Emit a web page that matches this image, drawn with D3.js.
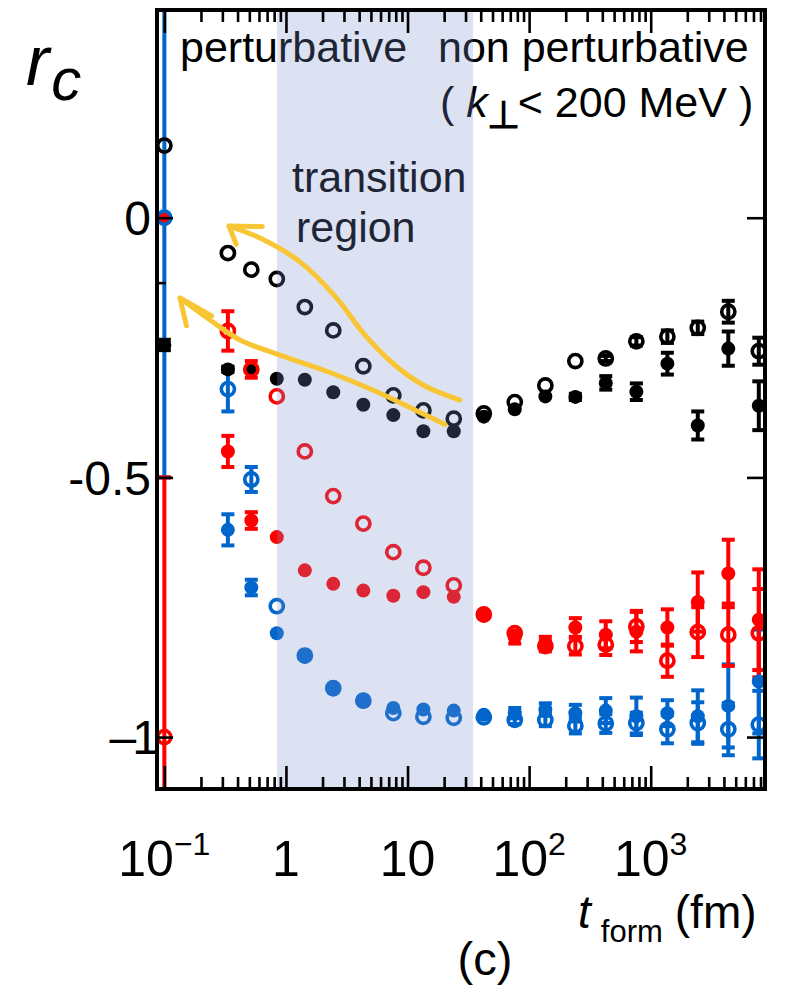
<!DOCTYPE html>
<html>
<head>
<meta charset="utf-8">
<script src="https://cdn.jsdelivr.net/npm/d3@7/dist/d3.min.js"></script>
<style>
  html, body { margin: 0; padding: 0; background: #ffffff; }
  svg { display: block; }
  text { font-family: "Liberation Sans", Arial, Helvetica, sans-serif; fill: #000; }
</style>
</head>
<body>
<svg id="chart" width="785" height="999"></svg>
<script>
// formation time bins (fm)
const tForm = [0.1, 0.333, 0.519, 0.841, 1.43, 2.45, 4.33, 7.64, 13.5, 24.0,
               42.4, 76.2, 136, 240, 427, 762, 1371, 2438, 4346, 7745];

// r_c per bin, one array per sample, with symmetric uncertainties
const blackOpen    = [0.139, -0.068, -0.100, -0.118, -0.172, -0.217, -0.286, -0.342, -0.371, -0.387,
                      -0.377, -0.355, -0.323, -0.276, -0.271, -0.238, -0.229, -0.212, -0.181, -0.257];
const blackOpenErr = [0, 0, 0, 0, 0, 0, 0, 0, 0, 0, 0, 0, 0, 0, 0.005, 0.008, 0.012, 0.012, 0.021, 0.026];

const blackFull    = [-0.245, -0.292, -0.294, -0.310, -0.312, -0.336, -0.360, -0.380, -0.411, -0.411,
                      -0.383, -0.369, -0.344, -0.345, -0.318, -0.335, -0.281, -0.400, -0.252, -0.362];
const blackFullErr = [0.01, 0.005, 0, 0, 0, 0, 0, 0, 0, 0, 0, 0, 0, 0.006, 0.013, 0.016, 0.021, 0.027, 0.033, 0.047];

const redOpen      = [-1.0, -0.218, -0.292, -0.344, -0.450, -0.536, -0.589, -0.644, -0.674, -0.708,
                      -0.764, -0.800, -0.825, -0.825, -0.822, -0.787, -0.853, -0.798, -0.803, -0.800];
const redOpenErr   = [0.5, 0.038, 0.016, 0, 0, 0, 0, 0, 0, 0, 0, 0.005, 0.01, 0.016, 0.02, 0.03, 0.031, 0.048, 0.06, 0.085];

const redFull      = [0.0, -0.450, -0.583, -0.615, -0.679, -0.705, -0.718, -0.728, -0.721, -0.730,
                      -0.766, -0.808, -0.819, -0.789, -0.803, -0.797, -0.789, -0.740, -0.685, -0.774];
const redFullErr   = [0, 0.03, 0.016, 0, 0, 0, 0, 0, 0, 0, 0, 0.012, 0.012, 0.018, 0.026, 0.038, 0.035, 0.057, 0.065, 0.097];

const blueOpen     = [0.0, -0.330, -0.504, -0.748, -0.843, -0.906, -0.930, -0.954, -0.961, -0.963,
                      -0.962, -0.967, -0.967, -0.978, -0.974, -0.973, -0.985, -0.973, -0.985, -0.976];
const blueOpenErr  = [0.5, 0.043, 0.024, 0, 0, 0, 0, 0, 0, 0, 0, 0.008, 0.012, 0.015, 0.018, 0.02, 0.027, 0.04, 0.05, 0.065];

const blueFull     = [null, -0.601, -0.712, -0.800, -0.845, -0.906, -0.928, -0.944, -0.947, -0.949,
                      -0.957, -0.954, -0.947, -0.954, -0.949, -0.960, -0.954, -0.960, -0.940, -0.893];
const blueFullErr  = [0, 0.03, 0.015, 0, 0, 0, 0, 0, 0, 0, 0, 0.01, 0.012, 0.016, 0.024, 0.036, 0.025, 0.05, 0.08, 0.1];

// axis ticks and labels
const yTickValues = [0, -0.5, -1];
const yTickLabels = ["0", "-0.5", "\u20131"];
const yMinorTicks = [-0.125];
const xTickValues = [0.1, 1, 10, 100, 1000];
const xTickBase   = ["10", "1", "10", "10", "10"];
const xTickExp    = ["\u22121", "", "", "2", "3"];

// transition band (fm)
const transitionBand = [0.845, 34.6];

// hand-drawn arrows as [t_form, r_c] points: shaft (tail to tip) and head stroke
const arrowUpper = [[27.0, -0.351], [13.9, -0.324], [7.89, -0.284], [4.47, -0.226], [2.53, -0.151],
                    [1.306, -0.085], [0.612, -0.039], [0.34, -0.016]];
const arrowUpperHead = [[0.64, -0.017], [0.34, -0.016], [0.39, -0.051]];
const arrowLower = [[20.3, -0.398], [12.7, -0.375], [5.94, -0.338], [2.31, -0.298], [0.894, -0.2645],
                    [0.419, -0.2355], [0.238, -0.197], [0.1345, -0.1546]];
const arrowLowerHead = [[0.245, -0.189], [0.1345, -0.1546], [0.152, -0.208]];

(function draw() {
  const svg = d3.select("#chart");
  const pl = 157, pr = 765, pt = 10, pb = 789;

  const x = d3.scaleLog().domain([0.087, 8710]).range([pl, pr]);
  const y = d3.scaleLinear().domain([0.4, -1.1]).range([pt, pb]);

  svg.append("defs").append("clipPath").attr("id", "plotClip")
    .append("rect").attr("x", pl).attr("y", pt).attr("width", pr - pl).attr("height", pb - pt);

  const BLACK = "#000000", RED = "#ff0000", BLUE = "#0066cc";

  const series = [
    { vals: blueFull,   err: blueFullErr,   color: BLUE,  open: false },
    { vals: blueOpen,   err: blueOpenErr,   color: BLUE,  open: true  },
    { vals: redFull,    err: redFullErr,    color: RED,   open: false },
    { vals: redOpen,    err: redOpenErr,    color: RED,   open: true  },
    { vals: blackFull,  err: blackFullErr,  color: BLACK, open: false },
    { vals: blackOpen,  err: blackOpenErr,  color: BLACK, open: true  }
  ];

  const pointsOf = s => tForm.map((t, i) => ({ t, v: s.vals[i], e: s.err[i] })).filter(d => d.v !== null);

  const plot = svg.append("g").attr("clip-path", "url(#plotClip)");

  // error bars
  const capHalf = 6.5;
  series.forEach(s => {
    const g = plot.append("g").attr("stroke", s.color).attr("stroke-width", 4);
    pointsOf(s).filter(d => d.e > 0).forEach(d => {
      const cx = x(d.t), y1 = y(d.v + d.e), y2 = y(d.v - d.e);
      g.append("line").attr("x1", cx).attr("x2", cx).attr("y1", y1).attr("y2", y2);
      g.append("line").attr("x1", cx - capHalf).attr("x2", cx + capHalf).attr("y1", y1).attr("y2", y1);
      g.append("line").attr("x1", cx - capHalf).attr("x2", cx + capHalf).attr("y1", y2).attr("y2", y2);
    });
  });

  // markers: filled first, open rings above
  series.filter(s => !s.open).forEach(s => {
    plot.append("g").selectAll("circle").data(pointsOf(s)).join("circle")
      .attr("cx", d => x(d.t)).attr("cy", d => y(d.v)).attr("r", 7)
      .attr("fill", s.color);
  });
  series.filter(s => s.open).forEach(s => {
    plot.append("g").selectAll("circle").data(pointsOf(s)).join("circle")
      .attr("cx", d => x(d.t)).attr("cy", d => y(d.v)).attr("r", 6.6)
      .attr("fill", "none").attr("stroke", s.color).attr("stroke-width", 3.6);
  });

  // region labels
  const ann = svg.append("g").attr("font-size", 43);
  ann.append("text").attr("x", 180).attr("y", 62).text("perturbative");
  ann.append("text").attr("x", 438).attr("y", 62).text("non perturbative");
  const kt = ann.append("text").attr("x", 440).attr("y", 117);
  kt.append("tspan").text("( ");
  kt.append("tspan").attr("font-style", "italic").text("k");
  kt.append("tspan").attr("font-size", 38).attr("font-weight", "bold").attr("dy", 11).attr("dx", -1).text("\u22a5");
  kt.append("tspan").attr("dy", -11).attr("dx", -2).text("< 200 MeV )");
  ann.append("text").attr("x", 292).attr("y", 192).text("transition");
  ann.append("text").attr("x", 296).attr("y", 242).text("region");

  // translucent transition band over everything drawn so far
  svg.append("rect")
    .attr("x", x(transitionBand[0])).attr("y", pt)
    .attr("width", x(transitionBand[1]) - x(transitionBand[0]))
    .attr("height", pb - pt)
    .attr("fill", "rgb(120,143,205)").attr("fill-opacity", 0.26);

  // axes: ticks point inward on all four sides
  const minorX = [];
  [-1, 0, 1, 2, 3].forEach(p => {
    for (let m = 2; m <= 9; m++) { const v = m * Math.pow(10, p); if (v < 8710) minorX.push(v); }
  });

  function styleAxis(g) {
    g.select(".domain").remove();
    g.selectAll(".tick line").attr("stroke", "#000").attr("stroke-width", 2.6);
    g.selectAll(".tick text").remove();
  }
  const noLabel = () => "";
  svg.append("g").attr("transform", `translate(0,${pb})`)
    .call(d3.axisBottom(x).tickValues(xTickValues).tickSize(-23).tickFormat(noLabel)).call(styleAxis);
  svg.append("g").attr("transform", `translate(0,${pb})`)
    .call(d3.axisBottom(x).tickValues(minorX).tickSize(-12).tickFormat(noLabel)).call(styleAxis);
  svg.append("g").attr("transform", `translate(0,${pt})`)
    .call(d3.axisTop(x).tickValues(xTickValues).tickSize(-23).tickFormat(noLabel)).call(styleAxis);
  svg.append("g").attr("transform", `translate(0,${pt})`)
    .call(d3.axisTop(x).tickValues(minorX).tickSize(-12).tickFormat(noLabel)).call(styleAxis);
  svg.append("g").attr("transform", `translate(${pl},0)`)
    .call(d3.axisLeft(y).tickValues(yTickValues).tickSize(-16).tickFormat(noLabel)).call(styleAxis);
  svg.append("g").attr("transform", `translate(${pl},0)`)
    .call(d3.axisLeft(y).tickValues(yMinorTicks).tickSize(-9).tickFormat(noLabel)).call(styleAxis);
  svg.append("g").attr("transform", `translate(${pr},0)`)
    .call(d3.axisRight(y).tickValues(yTickValues).tickSize(-18).tickFormat(noLabel)).call(styleAxis);

  // frame
  svg.append("rect").attr("x", pl).attr("y", pt).attr("width", pr - pl).attr("height", pb - pt)
    .attr("fill", "none").attr("stroke", "#000").attr("stroke-width", 4);

  // tick labels; the dashed "1" is set tighter and nudged right, its glyph being narrow
  const yl = svg.append("g").attr("font-size", 48).attr("text-anchor", "end");
  yTickValues.forEach((v, i) => {
    const tight = yTickLabels[i].startsWith("\u2013");
    yl.append("text").attr("x", tight ? 155 : 151).attr("y", y(v)).attr("dy", "0.36em")
      .attr("letter-spacing", tight ? -4 : 0).text(yTickLabels[i]);
  });
  const xl = svg.append("g").attr("font-size", 50).attr("text-anchor", "middle");
  xTickValues.forEach((v, i) => {
    const t = xl.append("text").attr("x", x(v)).attr("y", 876);
    t.append("tspan").text(xTickBase[i]);
    if (xTickExp[i]) t.append("tspan").attr("font-size", 32).attr("dy", -21).text(xTickExp[i]);
  });

  // axis titles
  const rc = svg.append("text").attr("x", 26).attr("y", 85).attr("font-size", 70).attr("font-style", "italic");
  rc.append("tspan").text("r");
  rc.append("tspan").attr("font-size", 60).attr("dx", 2).attr("dy", 15).text("c");

  const xt = svg.append("text").attr("x", 578).attr("y", 928).attr("font-size", 46);
  xt.append("tspan").attr("font-style", "italic").text("t");
  xt.append("tspan").attr("font-size", 31).attr("dx", 10).attr("dy", 14).text("form");
  xt.append("tspan").attr("dx", 12).attr("dy", -14).text("(fm)");

  svg.append("text").attr("x", 485).attr("y", 975).attr("font-size", 47).attr("text-anchor", "middle").text("(c)");

  // yellow arrows
  const arrowLine = d3.line().x(d => x(d[0])).y(d => y(d[1])).curve(d3.curveCatmullRom.alpha(0.5));
  const headLine = d3.line().x(d => x(d[0])).y(d => y(d[1]));
  const arrows = svg.append("g").attr("fill", "none").attr("stroke", "#f8c634")
    .attr("stroke-width", 5).attr("stroke-linecap", "round").attr("stroke-linejoin", "round");
  arrows.append("path").attr("d", arrowLine(arrowUpper));
  arrows.append("path").attr("d", headLine(arrowUpperHead));
  arrows.append("path").attr("d", arrowLine(arrowLower));
  arrows.append("path").attr("d", headLine(arrowLowerHead));
})();
</script>
</body>
</html>
